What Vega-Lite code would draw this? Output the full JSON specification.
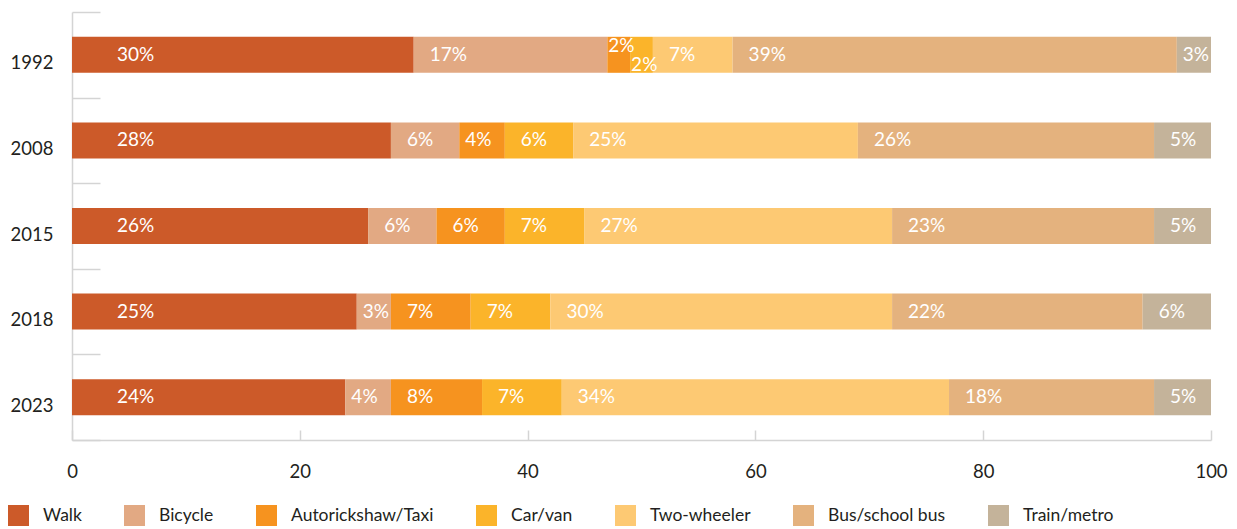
{
  "$schema": "https://vega.github.io/schema/vega-lite/v6.json",
  "width": 1139,
  "height": 428,
  "autosize": {"type": "none"},
  "padding": {"left": 72, "top": 12, "right": 26, "bottom": 89},
  "config": {"view": {"stroke": null}, "font": "Lato"},
  "data": {
    "values": [
      {"year": "1992", "mode": "Walk", "value": 30},
      {"year": "1992", "mode": "Bicycle", "value": 17},
      {"year": "1992", "mode": "Autorickshaw/Taxi", "value": 2},
      {"year": "1992", "mode": "Car/van", "value": 2},
      {"year": "1992", "mode": "Two-wheeler", "value": 7},
      {"year": "1992", "mode": "Bus/school bus", "value": 39},
      {"year": "1992", "mode": "Train/metro", "value": 3},
      {"year": "2008", "mode": "Walk", "value": 28},
      {"year": "2008", "mode": "Bicycle", "value": 6},
      {"year": "2008", "mode": "Autorickshaw/Taxi", "value": 4},
      {"year": "2008", "mode": "Car/van", "value": 6},
      {"year": "2008", "mode": "Two-wheeler", "value": 25},
      {"year": "2008", "mode": "Bus/school bus", "value": 26},
      {"year": "2008", "mode": "Train/metro", "value": 5},
      {"year": "2015", "mode": "Walk", "value": 26},
      {"year": "2015", "mode": "Bicycle", "value": 6},
      {"year": "2015", "mode": "Autorickshaw/Taxi", "value": 6},
      {"year": "2015", "mode": "Car/van", "value": 7},
      {"year": "2015", "mode": "Two-wheeler", "value": 27},
      {"year": "2015", "mode": "Bus/school bus", "value": 23},
      {"year": "2015", "mode": "Train/metro", "value": 5},
      {"year": "2018", "mode": "Walk", "value": 25},
      {"year": "2018", "mode": "Bicycle", "value": 3},
      {"year": "2018", "mode": "Autorickshaw/Taxi", "value": 7},
      {"year": "2018", "mode": "Car/van", "value": 7},
      {"year": "2018", "mode": "Two-wheeler", "value": 30},
      {"year": "2018", "mode": "Bus/school bus", "value": 22},
      {"year": "2018", "mode": "Train/metro", "value": 6},
      {"year": "2023", "mode": "Walk", "value": 24},
      {"year": "2023", "mode": "Bicycle", "value": 4},
      {"year": "2023", "mode": "Autorickshaw/Taxi", "value": 8},
      {"year": "2023", "mode": "Car/van", "value": 7},
      {"year": "2023", "mode": "Two-wheeler", "value": 34},
      {"year": "2023", "mode": "Bus/school bus", "value": 18},
      {"year": "2023", "mode": "Train/metro", "value": 5}
    ]
  },
  "transform": [
    {"calculate": "indexof(['Walk','Bicycle','Autorickshaw/Taxi','Car/van','Two-wheeler','Bus/school bus','Train/metro'], datum.mode)", "as": "idx"},
    {"stack": "value", "groupby": ["year"], "sort": [{"field": "idx", "order": "ascending"}], "as": ["x0", "x1"]},
    {"calculate": "datum.value + '%'", "as": "label"}
  ],
  "encoding": {
    "y": {
      "field": "year",
      "type": "nominal",
      "sort": ["1992", "2008", "2015", "2018", "2023"],
      "scale": {"paddingInner": 0, "paddingOuter": 0},
      "axis": {
        "title": null,
        "domainColor": "#d4d4d4",
        "domainWidth": 1.5,
        "tickColor": "#d4d4d4",
        "tickWidth": 1.5,
        "tickSize": -28,
        "tickBand": "extent",
        "labelPadding": 47,
        "labelOffset": 8,
        "labelFontSize": 18.5,
        "labelFont": "Lato",
        "labelColor": "#231f20"
      }
    }
  },
  "layer": [
    {
      "mark": {"type": "bar", "size": 36},
      "encoding": {
        "x": {
          "field": "x0",
          "type": "quantitative",
          "scale": {"domain": [0, 100], "nice": false},
          "axis": {
            "title": null,
            "values": [0, 20, 40, 60, 80, 100],
            "grid": false,
            "labelFlush": false,
            "domainColor": "#d4d4d4",
            "domainWidth": 1.5,
            "tickColor": "#d4d4d4",
            "tickWidth": 1.5,
            "tickSize": -10,
            "labelPadding": 32,
            "labelFontSize": 18.5,
            "labelFont": "Lato",
            "labelColor": "#231f20"
          }
        },
        "x2": {"field": "x1"},
        "color": {
          "field": "mode",
          "type": "nominal",
          "scale": {
            "domain": ["Walk", "Bicycle", "Autorickshaw/Taxi", "Car/van", "Two-wheeler", "Bus/school bus", "Train/metro"],
            "range": ["#cc5a29", "#e2a983", "#f6931f", "#fbb42a", "#fdc973", "#e4b27e", "#c4b39a"]
          },
          "legend": {
            "title": null,
            "orient": "none",
            "legendX": -64,
            "legendY": 493,
            "direction": "horizontal",
            "symbolType": "square",
            "symbolSize": 441,
            "symbolStrokeWidth": 0,
            "symbolOpacity": 1,
            "labelOffset": 14,
            "columnPadding": 42,
            "labelFontSize": 17.5,
            "labelFont": "Lato",
            "labelColor": "#231f20",
            "labelLimit": 300
          }
        }
      }
    },
    {
      "transform": [{"filter": "datum.mode == 'Walk'"}],
      "mark": {"type": "text", "align": "left", "baseline": "middle", "dx": 45, "fontSize": 19, "color": "white", "font": "Lato"},
      "encoding": {"x": {"field": "x0", "type": "quantitative"}, "text": {"field": "label"}}
    },
    {
      "transform": [{"filter": "datum.mode != 'Walk' && datum.value > 4"}],
      "mark": {"type": "text", "align": "left", "baseline": "middle", "dx": 16, "fontSize": 19, "color": "white", "font": "Lato"},
      "encoding": {"x": {"field": "x0", "type": "quantitative"}, "text": {"field": "label"}}
    },
    {
      "transform": [{"filter": "datum.mode != 'Walk' && datum.value <= 4 && !(datum.year == '1992' && datum.value == 2)"}],
      "mark": {"type": "text", "align": "left", "baseline": "middle", "dx": 6, "fontSize": 19, "color": "white", "font": "Lato"},
      "encoding": {"x": {"field": "x0", "type": "quantitative"}, "text": {"field": "label"}}
    },
    {
      "transform": [{"filter": "datum.year == '1992' && datum.mode == 'Autorickshaw/Taxi'"}],
      "mark": {"type": "text", "align": "left", "baseline": "middle", "dx": 1, "dy": -9, "fontSize": 19, "color": "white", "font": "Lato"},
      "encoding": {"x": {"field": "x0", "type": "quantitative"}, "text": {"field": "label"}}
    },
    {
      "transform": [{"filter": "datum.year == '1992' && datum.mode == 'Car/van'"}],
      "mark": {"type": "text", "align": "left", "baseline": "middle", "dx": 1, "dy": 10, "fontSize": 19, "color": "white", "font": "Lato"},
      "encoding": {"x": {"field": "x0", "type": "quantitative"}, "text": {"field": "label"}}
    }
  ]
}
